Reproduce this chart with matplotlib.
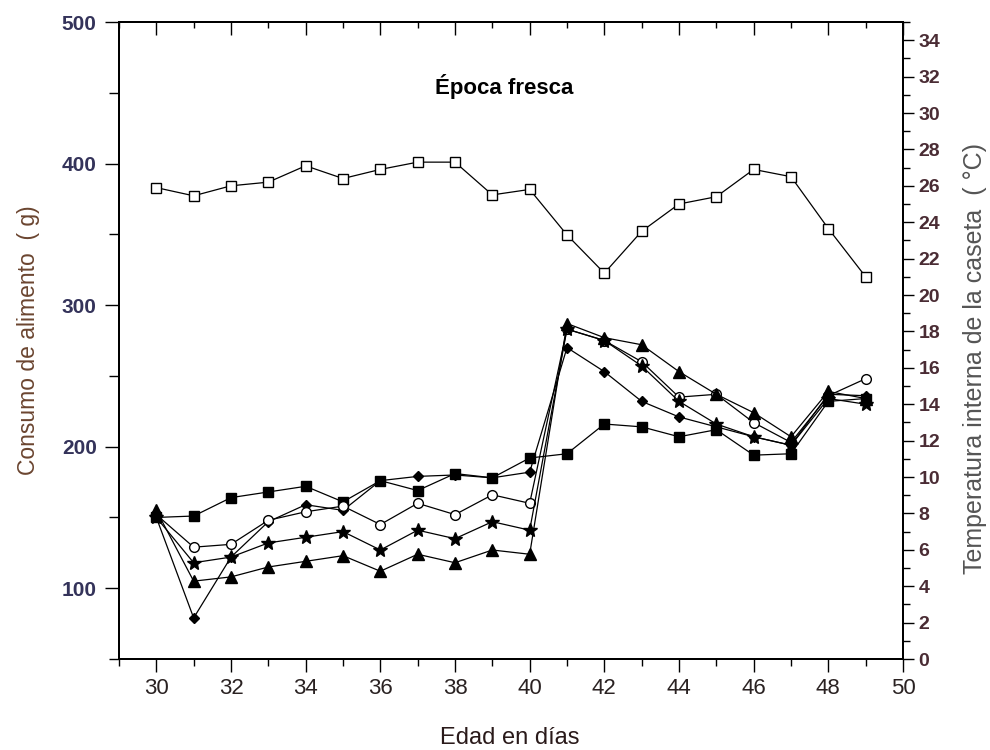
import matplotlib
matplotlib.use("Agg")
import matplotlib.pyplot as plt
from matplotlib.ticker import MultipleLocator

plt.rcParams['font.family'] = ['Liberation Sans', 'DejaVu Sans']

# edad en dias
edad = list(range(30, 50))

# consumo de alimento (g) por tratamiento
cuadro_lleno = [150, 151, 164, 168, 172, 161, 176, 169, 181, 178,
                192, 195, 216, 214, 207, 212, 194, 195, 232, 234]
rombo_lleno = [150, 79, 122, 147, 159, 155, 176, 179, 180, 178,
               182, 270, 253, 232, 221, 214, 207, 201, 237, 236]
circulo_abierto = [152, 129, 131, 148, 154, 158, 145, 160, 152, 166,
                   160, 283, 275, 260, 235, 237, 217, 203, 236, 248]
estrella = [150, 118, 122, 132, 136, 140, 127, 141, 135, 147,
            141, 283, 275, 257, 232, 216, 207, 201, 234, 230]
triangulo = [155, 105, 108, 115, 119, 123, 112, 124, 118, 127,
             124, 287, 277, 272, 253, 237, 224, 207, 239, 234]

# temperatura interna de la caseta (C)
temperatura = [25.9, 25.45, 26.0, 26.2, 27.1, 26.4, 26.9, 27.3, 27.3, 25.5,
               25.8, 23.3, 21.2, 23.5, 25.0, 25.4, 26.9, 26.5, 23.65, 21.0]

fig = plt.figure(figsize=(9.9, 7.5), dpi=100)
ax = fig.add_axes([119 / 990, 1 - 659 / 750, 784 / 990, 637 / 750])

lw = 0.9
ax.plot(edad, cuadro_lleno, color='black', lw=lw, marker='s', ms=6.5,
        mfc='black', mec='black')
ax.plot(edad, rombo_lleno, color='black', lw=lw, marker='D', ms=5.5,
        mfc='black', mec='black')
ax.plot(edad, circulo_abierto, color='black', lw=lw, marker='o', ms=7,
        mfc='white', mec='black', mew=1.0)
ax.plot(edad, estrella, color='black', lw=lw, marker='*', ms=10,
        mfc='black', mec='black')
ax.plot(edad, triangulo, color='black', lw=lw, marker='^', ms=8,
        mfc='black', mec='black')

ax.set_xlim(29, 50)
ax.set_ylim(50, 500)

# eje derecho: temperatura
ax2 = ax.twinx()
ax2.plot(edad, temperatura, color='black', lw=lw, marker='s', ms=6.5,
         mfc='white', mec='black', mew=1.0)
ax2.set_ylim(0, 35)

for a in (ax, ax2):
    for s in a.spines.values():
        s.set_linewidth(1.4)

ax.xaxis.set_major_locator(MultipleLocator(2))
ax.xaxis.set_minor_locator(MultipleLocator(1))
ax.yaxis.set_major_locator(MultipleLocator(100))
ax.yaxis.set_minor_locator(MultipleLocator(50))
ax2.set_yticks(range(0, 35, 2))
ax2.yaxis.set_minor_locator(MultipleLocator(1))

ax.tick_params(axis='x', which='both', direction='out', top=False, bottom=True)
ax.tick_params(axis='x', which='major', length=9, width=1.0, pad=5,
               labelsize=16, labelcolor='#2a2222')
ax.tick_params(axis='x', which='minor', length=5, width=1.0)
ax.tick_params(axis='y', which='both', direction='out', left=True, right=False)
ax.tick_params(axis='y', which='major', length=10, width=1.0, pad=6,
               labelsize=15, labelcolor='#34335a')
ax.tick_params(axis='y', which='minor', length=7, width=1.0)
ax2.tick_params(axis='y', which='both', direction='out')
ax2.tick_params(axis='y', which='major', length=8, width=1.0, pad=3,
                labelsize=14, labelcolor='#4a2c34')
ax2.tick_params(axis='y', which='minor', length=5, width=1.0)

# ticks arriba hacia dentro
ax_top = ax.secondary_xaxis('top')
ax_top.set_xticks(range(30, 51, 2))
ax_top.xaxis.set_minor_locator(MultipleLocator(1))
ax_top.tick_params(axis='x', which='major', direction='in', length=9,
                   width=1.0, labeltop=False)
ax_top.tick_params(axis='x', which='minor', direction='in', length=4,
                   width=1.0)
ax_top.spines['top'].set_linewidth(1.4)

for lab in ax.get_yticklabels() + ax2.get_yticklabels():
    lab.set_fontweight('bold')

ax.set_xlabel('Edad en días', fontsize=17, color='#2a1a1a', va='center')
ax.xaxis.set_label_coords(0.499, -0.124)
ax.set_ylabel('Consumo de alimento  ( g)', fontsize=16.5, color='#6b4530',
              va='center', ha='center')
ax.yaxis.set_label_coords(-0.116, 0.5)
ax2.set_ylabel('Temperatura interna de la caseta  ( °C)', fontsize=18,
               color='#555555', va='center', ha='center')
ax2.yaxis.set_label_coords(1.092, 0.471)

ax.text(0.491, 0.898, 'Época fresca', transform=ax.transAxes, fontsize=16,
        fontweight='bold', ha='center', va='center')

fig.savefig('out.png', dpi=100)
